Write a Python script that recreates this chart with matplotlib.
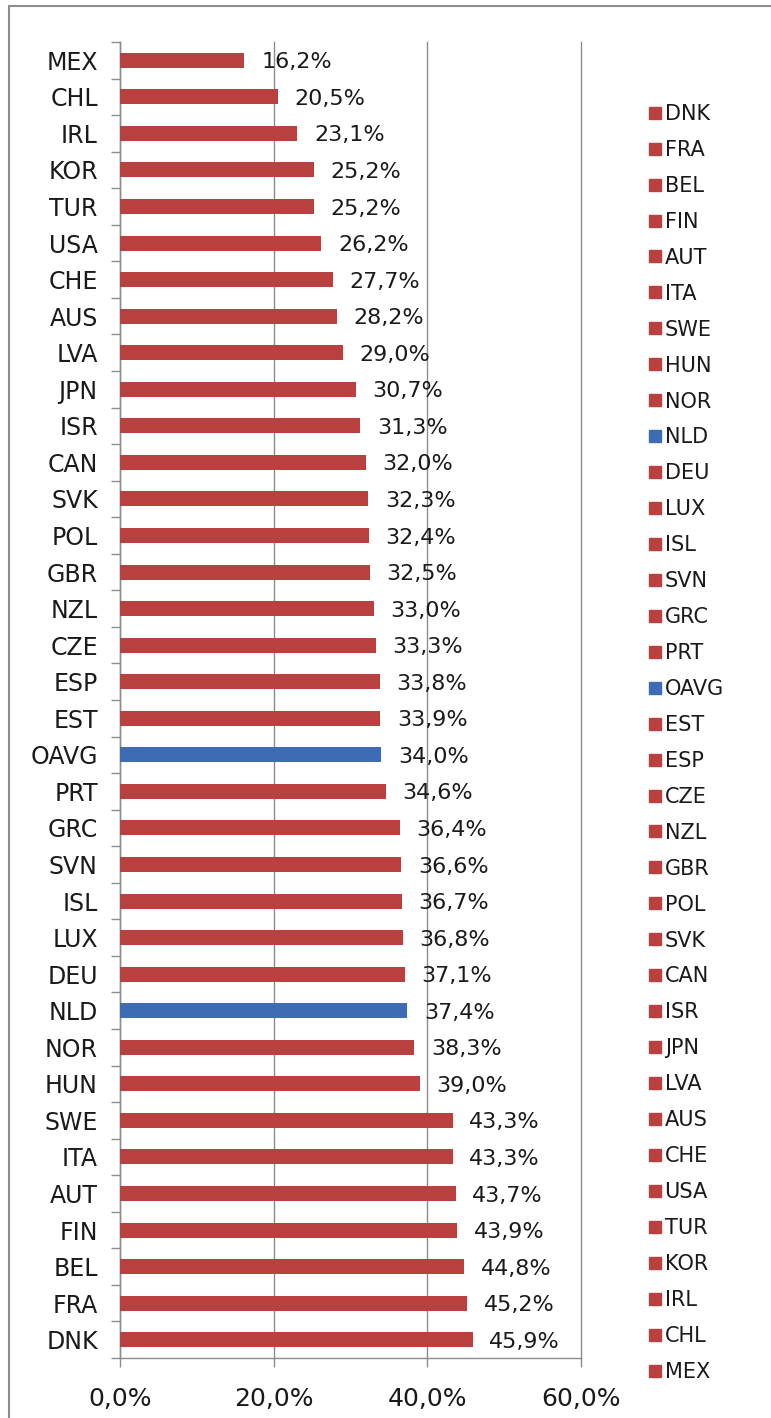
import matplotlib
matplotlib.use('Agg')
import matplotlib.pyplot as plt
from matplotlib.lines import Line2D
from matplotlib.patches import Rectangle

# top to bottom, as shown in the chart
countries = ['MEX', 'CHL', 'IRL', 'KOR', 'TUR', 'USA', 'CHE', 'AUS', 'LVA', 'JPN',
             'ISR', 'CAN', 'SVK', 'POL', 'GBR', 'NZL', 'CZE', 'ESP', 'EST', 'OAVG',
             'PRT', 'GRC', 'SVN', 'ISL', 'LUX', 'DEU', 'NLD', 'NOR', 'HUN', 'SWE',
             'ITA', 'AUT', 'FIN', 'BEL', 'FRA', 'DNK']
shares = [16.2, 20.5, 23.1, 25.2, 25.2, 26.2, 27.7, 28.2, 29.0, 30.7,
          31.3, 32.0, 32.3, 32.4, 32.5, 33.0, 33.3, 33.8, 33.9, 34.0,
          34.6, 36.4, 36.6, 36.7, 36.8, 37.1, 37.4, 38.3, 39.0, 43.3,
          43.3, 43.7, 43.9, 44.8, 45.2, 45.9]
highlight = ['NLD', 'OAVG']
x_ticks = [0, 20, 40, 60]

RED = '#B8403E'
BLUE = '#3D6CB4'
GRID = '#8C8C8C'
TXT = '#1A1A1A'

W, H = 771, 1418
fig = plt.figure(figsize=(W / 100, H / 100), dpi=100)
ax = fig.add_axes([120 / W, 1 - 1358 / H, (581 - 120) / W, (1358 - 42) / H])

n = len(countries)
colors = [BLUE if c in highlight else RED for c in countries]
ypos = list(range(n))
ax.barh(ypos, shares, height=0.41, color=colors, zorder=3)

ax.set_xlim(0, 60)
ax.set_ylim(n - 0.5, -0.5)
ax.set_xticks(x_ticks)
ax.set_xticklabels([f'{t:.1f}%'.replace('.', ',') for t in x_ticks], fontsize=18, color=TXT)
ax.set_yticks(ypos)
ax.set_yticklabels(countries, fontsize=17, color=TXT)
ax.set_yticks([i + 0.5 for i in range(-1, n)], minor=True)
ax.tick_params(axis='y', which='major', length=0, pad=16)
ax.tick_params(axis='y', which='minor', length=6.5, color=GRID, width=1)
ax.tick_params(axis='x', length=6.5, color=GRID, width=1, pad=14.5)

ax.grid(axis='x', color=GRID, lw=1, zorder=0)
ax.set_axisbelow(True)
for gl in ax.get_xgridlines():
    gl.set_clip_on(False)
for s in ['top', 'right']:
    ax.spines[s].set_visible(False)
for s in ['left', 'bottom']:
    ax.spines[s].set_color(GRID)
    ax.spines[s].set_linewidth(1)

for i, v in enumerate(shares):
    ax.annotate(f'{v:.1f}%'.replace('.', ','), (v, i), xytext=(12, -1.5),
                textcoords='offset points', va='center', ha='left',
                fontsize=16, color=TXT)

# legend lists categories bottom-up, like the excel original
handles = [Line2D([], [], marker='s', ls='none', color=c, markersize=8.5)
           for c in reversed(colors)]
fig.legend(handles, list(reversed(countries)), loc='upper left',
           bbox_to_anchor=(649 / W, 1 - 104 / H), frameon=False, fontsize=15,
           handlelength=0.6, handletextpad=0.15, labelspacing=0.765,
           borderaxespad=0, borderpad=0, labelcolor=TXT)

# outer chart frame
fig.patches.append(Rectangle((9 / W, -0.05), 1.2, 1.05 - 6 / H, transform=fig.transFigure,
                             fill=False, edgecolor=GRID, lw=1.5))

fig.savefig('out.png', dpi=100)
